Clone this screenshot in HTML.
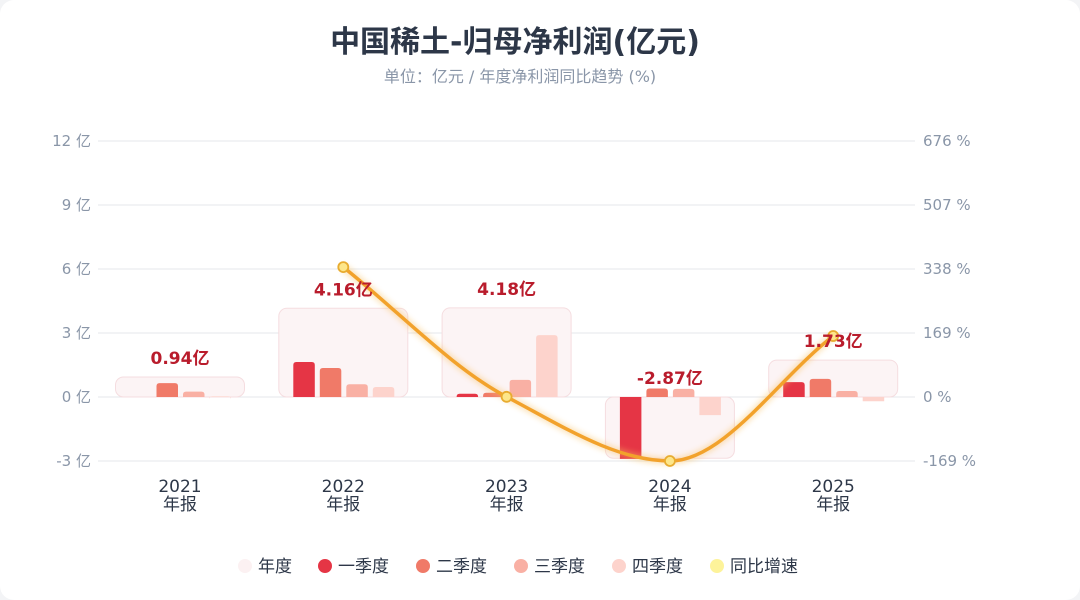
<!DOCTYPE html>
<html><head><meta charset="utf-8"><style>
html,body{margin:0;padding:0;background:#f3f4f6;}
#card{position:absolute;left:0;top:0;width:1080px;height:600px;background:#fff;border-radius:14px;overflow:hidden;font-family:"DejaVu Sans","Noto Sans CJK SC",sans-serif;}
svg text{font-family:"DejaVu Sans","Noto Sans CJK SC",sans-serif;}
</style></head><body>
<div id="card">
<svg id="chart" width="1080" height="600">
<defs>
<filter id="glow" x="-20%" y="-20%" width="140%" height="140%"><feGaussianBlur stdDeviation="3"/></filter>
</defs>
<text x="515" y="52" text-anchor="middle" font-size="30" font-weight="bold" fill="#2d3748">中国稀土-归母净利润(亿元)</text>
<text x="520" y="82" text-anchor="middle" font-size="16" fill="#8a96a8">单位：亿元 / 年度净利润同比趋势 (%)</text>
<g id="grid"></g><g id="bars"></g><g id="line"></g><g id="labels"></g><g id="legend"></g>
</svg>
</div>
<script>
const categories=["2021","2022","2023","2024","2025"];
const annual=[0.94,4.16,4.18,-2.87,1.73];
const q1=[0,1.64,0.15,-2.9,0.7];
const q2=[0.65,1.36,0.2,0.4,0.85];
const q3=[0.25,0.6,0.8,0.38,0.28];
const q4=[0.03,0.47,2.9,-0.85,-0.2];
const growth=[null,343,0.5,-169,161];
const leftTicks=[-3,0,3,6,9,12];
const rightTicks=[-169,0,169,338,507,676];
const NS="http://www.w3.org/2000/svg";
function mk(tag,attrs,parent){const e=document.createElementNS(NS,tag);for(const k in attrs)e.setAttribute(k,attrs[k]);parent.appendChild(e);return e;}
const y0=397,unit=64/3;
function yL(v){return y0-v*unit;}
function yR(v){return y0-v*64/169;}
function xC(i){return 180+i*163.3;}
const grid=document.getElementById('grid');
leftTicks.forEach((t,i)=>{
 const l=mk('line',{x1:98,x2:915,y1:yL(t),y2:yL(t),stroke:'#e5e7eb','stroke-width':1},grid);
 
 
 const a=mk('text',{x:91,y:yL(t)+5,'text-anchor':'end','font-size':15,fill:'#8a96a8'},grid);a.textContent=t+' 亿';
 
 
 const b=mk('text',{x:923,y:yR(rightTicks[i])+5,'font-size':15,fill:'#8a96a8'},grid);b.textContent=rightTicks[i]+' %';
 
 
});
const bars=document.getElementById('bars');
const qs=[q1,q2,q3,q4],qc=['#e53545','#f07a68','#f9b0a4','#fdd3cc'],off=[-50,-23.5,3,29.5];
categories.forEach((c,i)=>{
 const cx=xC(i);
 const top=Math.min(yL(annual[i]),y0),h=Math.abs(yL(annual[i])-y0);
 const r=mk('rect',{x:cx-64.5,y:top,width:129,height:h,rx:8,fill:'#fcf4f5',stroke:'#f5dde0','stroke-width':1},bars);
 
 
 qs.forEach((q,k)=>{
  const v=q[i];if(Math.abs(v)<0.01)return;
  const yt=Math.min(yL(v),y0),hh=Math.abs(yL(v)-y0);
  const b=mk('path',{d:v>=0?`M${cx+off[k]},${y0}V${yt+3}q0,-3 3,-3h${15.5}q3,0 3,3V${y0}Z`:`M${cx+off[k]},${y0}h21.5V${y0+hh}h-21.5Z`,fill:qc[k]},bars);
  
  
 });
 const t1=mk('text',{x:cx,y:492,'text-anchor':'middle','font-size':17,fill:'#2d3748'},bars);t1.textContent=c;
 
 
 const t2=mk('text',{x:cx,y:510,'text-anchor':'middle','font-size':17,fill:'#2d3748'},bars);t2.textContent='年报';
 
 
 const lab=mk('text',{x:cx,y:yL(Math.max(annual[i],0))-13,'text-anchor':'middle','font-size':17,'font-weight':'bold',fill:'#b91c2c'},document.getElementById('labels'));
 lab.textContent=annual[i].toFixed(2)+'亿';
 
 
});
const pts=[];growth.forEach((g,i)=>{if(g!==null)pts.push([xC(i),yR(g)]);});
function monotone(p){const n=p.length,d=[],m=[];for(let i=0;i<n-1;i++)d.push((p[i+1][1]-p[i][1])/(p[i+1][0]-p[i][0]));
 m[0]=d[0];m[n-1]=d[n-2];for(let i=1;i<n-1;i++){m[i]=d[i-1]*d[i]<=0?0:(2*d[i-1]*d[i])/(d[i-1]+d[i]);}
 let s=`M${p[0][0]},${p[0][1]}`;for(let i=0;i<n-1;i++){const h=(p[i+1][0]-p[i][0])/3;s+=`C${p[i][0]+h},${p[i][1]+m[i]*h} ${p[i+1][0]-h},${p[i+1][1]-m[i+1]*h} ${p[i+1][0]},${p[i+1][1]}`;}return s;}
const lg=document.getElementById('line');const dpath=monotone(pts);
const gl=mk('path',{d:dpath,fill:'none',stroke:'#f8c060','stroke-width':7,opacity:0.45,filter:'url(#glow)'},lg);


const ln=mk('path',{d:dpath,fill:'none',stroke:'#f2a22c','stroke-width':3.5},lg);


pts.forEach(p=>{const c=mk('circle',{cx:p[0],cy:p[1],r:5,fill:'#fde68a',stroke:'#e8ac30','stroke-width':1.8},lg);
 
 });
const leg=document.getElementById('legend');
const items=[['年度','#fcf1f2',238],['一季度','#e53545',318],['二季度','#f07a68',416],['三季度','#f9b0a4',514],['四季度','#fdd3cc',612],['同比增速','#fdf39a',710]];
items.forEach(it=>{
 const c=mk('circle',{cx:it[2]+7,cy:566,r:7,fill:it[1]},leg);
 
 
 const t=mk('text',{x:it[2]+20,y:572,'font-size':17,fill:'#2d3748'},leg);t.textContent=it[0];
 
 
});
</script>
</body></html>
